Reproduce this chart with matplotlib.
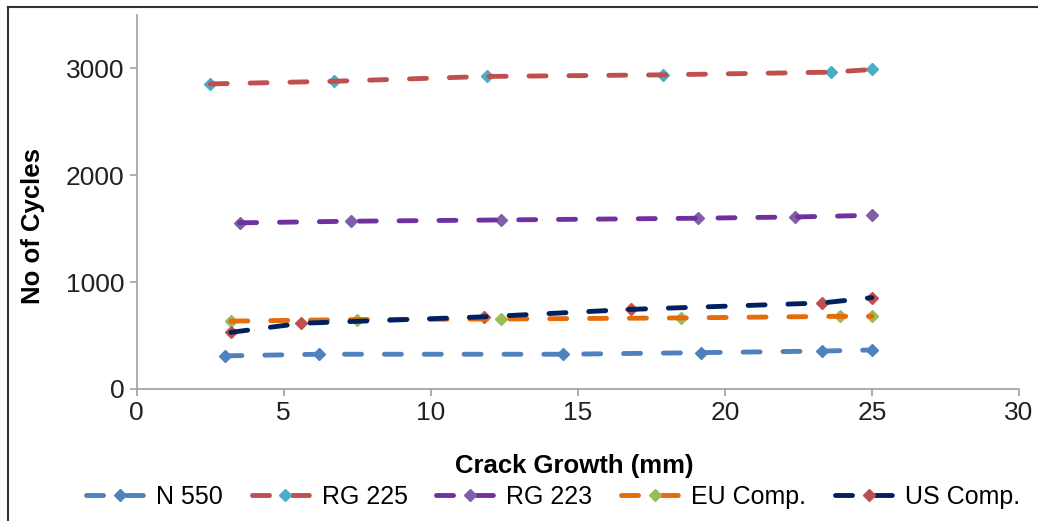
import matplotlib.pyplot as plt
from matplotlib.lines import Line2D

plt.rcParams['font.family'] = ['Liberation Sans', 'DejaVu Sans']

# --- data ---
n550_x = [3.0, 6.2, 14.5, 19.2, 23.3, 25.0]
n550_y = [310, 325, 325, 340, 355, 365]

rg225_x = [2.5, 6.7, 11.9, 17.9, 23.6, 25.0]
rg225_y = [2855, 2880, 2925, 2940, 2965, 2990]

rg223_x = [3.5, 7.3, 12.4, 19.1, 22.4, 25.0]
rg223_y = [1555, 1570, 1582, 1598, 1610, 1625]

eu_x = [3.2, 7.5, 12.4, 18.5, 23.9, 25.0]
eu_y = [635, 650, 655, 665, 680, 680]

us_x = [3.2, 5.6, 11.8, 16.8, 23.3, 25.0]
us_y = [530, 615, 675, 745, 805, 855]

series = [
    ("N 550",    n550_x,  n550_y,  "#4F81BD", "#4F81BD"),
    ("RG 225",   rg225_x, rg225_y, "#C0504D", "#4BACC6"),
    ("RG 223",   rg223_x, rg223_y, "#7030A0", "#7F5FA8"),
    ("EU Comp.", eu_x,    eu_y,    "#E46C0A", "#9BBB59"),
    ("US Comp.", us_x,    us_y,    "#002060", "#C0504D"),
]

fig = plt.figure(figsize=(10.38, 5.21), dpi=100)
ax = fig.add_axes([0.1317, 0.2534, 0.85, 0.7178])

handles = []
for name, xs, ys, lc, mc in series:
    # markers under the dashed line, like Excel draws it
    ax.plot(xs, ys, linestyle="none", marker="D", markersize=6.5,
            markerfacecolor=mc, markeredgecolor=mc, zorder=2)
    ax.plot(xs, ys, color=lc, lw=3.5, dashes=(3.5, 4.7),
            dash_capstyle="round", zorder=3)
    handles.append(Line2D([], [], color=lc, lw=3.5, dashes=(3.5, 4.7),
                          dash_capstyle="round", marker="D", markersize=6.5,
                          markerfacecolor=mc, markeredgecolor=mc))

ax.set_xlim(0, 30)
ax.set_ylim(0, 3500)
ax.set_xticks(range(0, 31, 5))
ax.set_yticks([0, 1000, 2000, 3000])

for side in ("top", "right"):
    ax.spines[side].set_visible(False)
for side in ("left", "bottom"):
    ax.spines[side].set_color("#A0A0A0")
    ax.spines[side].set_linewidth(1.2)
ax.tick_params(axis="both", direction="out", length=5, width=1.2,
               color="#A0A0A0", labelsize=19, labelcolor="#222222", pad=4)

ax.set_xlabel("Crack Growth (mm)", fontsize=18.5, fontweight="bold")
ax.set_ylabel("No of Cycles", fontsize=18.5, fontweight="bold")
ax.xaxis.set_label_coords(0.496, -0.174)
ax.yaxis.set_label_coords(-0.104, 0.436)

fig.legend(handles=handles, labels=[s[0] for s in series],
           loc="center", bbox_to_anchor=(553 / 1038, 1 - 497 / 521), ncol=5,
           frameon=False, fontsize=18, numpoints=1, handlelength=2.7,
           handletextpad=0.1, columnspacing=1.15)

# chart-area border (top and left edges visible in the crop)
fig.add_artist(Line2D([8 / 1038, 1], [1 - 7 / 521, 1 - 7 / 521],
                      transform=fig.transFigure, color="#333333", lw=1.5))
fig.add_artist(Line2D([8 / 1038, 8 / 1038], [0, 1 - 7 / 521],
                      transform=fig.transFigure, color="#333333", lw=1.5))

fig.savefig("out.png", dpi=100)
